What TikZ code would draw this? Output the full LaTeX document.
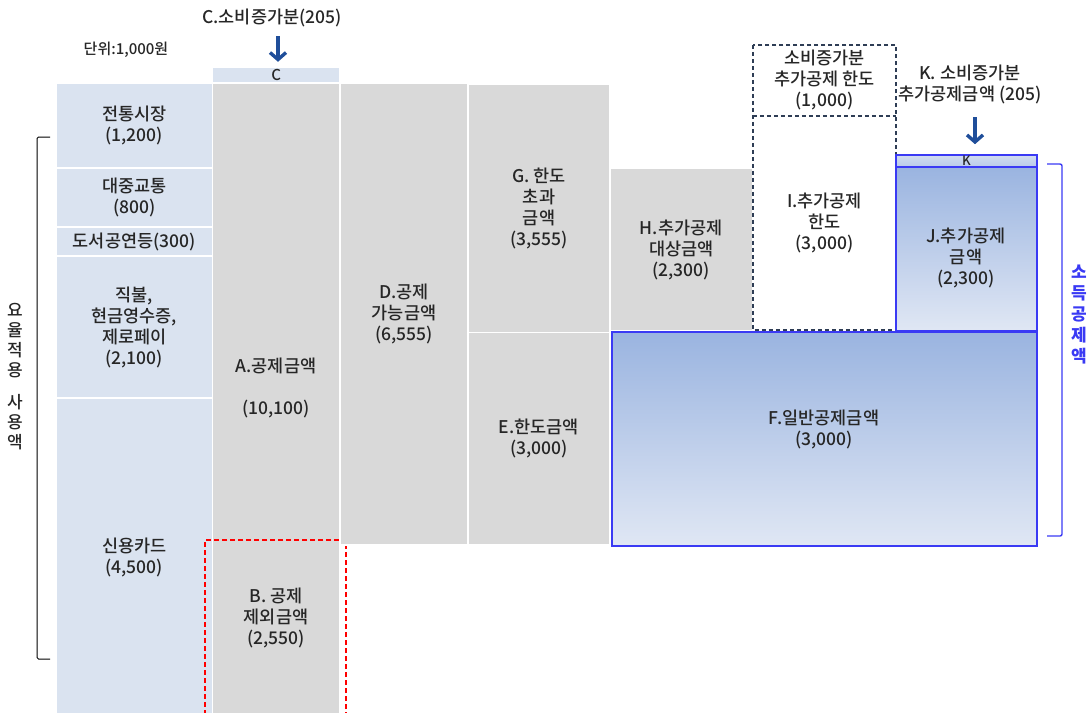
\documentclass[tikz,border=0pt]{standalone}
\usepackage{fontspec}
\setmainfont{Noto Sans CJK KR}[UprightFont=* Medium]
\newfontfamily\gainfont{Noto Sans CJK KR}
\usetikzlibrary{arrows.meta}

\definecolor{cellblue}{HTML}{DAE3F0}
\definecolor{cellgray}{HTML}{D9D9D9}
\definecolor{linkblue}{HTML}{1F4E9A}
\definecolor{rimblue}{HTML}{3A3AF4}
\definecolor{topblue}{HTML}{9AB4E0}
\definecolor{botblue}{HTML}{E0E7F4}
\definecolor{limitnavy}{HTML}{2E3D55}
\definecolor{inktext}{HTML}{262626}

\tikzset{
  words/.style={align=center, text=inktext, inner sep=0pt, font=\fontsize{17.5}{21}\selectfont},
  cell/.style={words, draw=white, line width=1.4pt},
  lightcell/.style={cell, fill=cellblue},
  graycell/.style={cell, fill=cellgray},
  bluecell/.style={cell, draw=rimblue, line width=1.6pt, top color=topblue, bottom color=botblue},
  limitline/.style={draw=limitnavy, line width=1.7pt, dash pattern=on 4.5pt off 2.5pt},
  downarrow/.style={draw=linkblue, line width=3.4pt, -{Straight Barb[length=7pt,width=16pt]}},
}

\begin{document}
\begin{tikzpicture}[x=1pt,y=-1pt]
\useasboundingbox (0,0) rectangle (1091,712);

% left column: spending by type
\node[lightcell, minimum width=156.5pt, minimum height=85pt] (trad) at (134.25,125.5) {전통시장\\(1,200)};
\node[lightcell, minimum width=156.5pt, minimum height=59pt] (bus) at (134.25,197.5) {대중교통\\(800)};
\node[lightcell, minimum width=156.5pt, minimum height=29pt] (book) at (134.25,241.5) {도서공연등(300)};
\node[lightcell, minimum width=156.5pt, minimum height=142pt] (cash) at (134.25,327) {직불,\\현금영수증,\\제로페이\\(2,100)};
\node[lightcell, minimum width=156.5pt, minimum height=318pt] (card) at (134.25,557) {신용카드\\(4,500)};

\node[words, font=\fontsize{15}{16}\selectfont] (unit) at (126,50) {단위:1,000원};

% gray columns
\node[lightcell, minimum width=127.5pt, minimum height=15.5pt, font=\fontsize{15}{15}\selectfont] (C) at (276.25,75.25) {C};
\node[graycell, minimum width=127.5pt, minimum height=633pt] (A) at (276.25,399.5) {};
\node[words] (Atxt) at (276,388) {A.공제금액\\[21pt](10,100)};
\node[draw=red, line width=1.5pt, dash pattern=on 5pt off 3pt, minimum width=141pt, minimum height=180pt] (B) at (275.5,630) {};
\node[words] (Btxt) at (276,618) {B. 공제\\제외금액\\(2,550)};

\node[graycell, minimum width=128pt, minimum height=462pt] (D) at (404,314) {D.공제\\가능금액\\(6,555)};
\node[graycell, minimum width=142pt, minimum height=248.5pt] (G) at (539,208.25) {G. 한도\\초과\\금액\\(3,555)};
\node[graycell, minimum width=142pt, minimum height=212.5pt] (E) at (539,438.75) {E.한도금액\\(3,000)};
\node[graycell, minimum width=142.5pt, minimum height=163pt] (H) at (681.25,249.5) {H.추가공제\\대상금액\\(2,300)};

% dashed limits
\node[words, minimum width=143pt, minimum height=70.5pt] (limit) at (824.5,80.25) {소비증가분\\추가공제 한도\\(1,000)};
\node[words, minimum width=143pt, minimum height=214pt] (I) at (824.5,222.5) {I.추가공제\\한도\\(3,000)};
\draw[limitline] (limit.north west) rectangle (I.south east);
\draw[limitline] (limit.south west) -- (limit.south east);

% deduction boxes
\node[bluecell, minimum width=141pt, minimum height=12pt, top color=botblue!80!topblue, bottom color=topblue!70!white, font=\fontsize{13}{13}\selectfont] (K) at (966.5,161) {K};
\node[bluecell, minimum width=141pt, minimum height=164pt] (J) at (966.5,249) {};
\node[words] (Jtxt) at (966,258) {J.추가공제\\금액\\(2,300)};
\node[bluecell, minimum width=425pt, minimum height=214pt] (F) at (824.5,439) {};
\node[words] (Ftxt) at (824,429) {F.일반공제금액\\(3,000)};

% arrows
\node[words] (Clab) at (272,18) {C.소비증가분(205)};
\coordinate (Ctop) at (278,36);
\draw[downarrow, shorten >=5pt] (Ctop) -- (Ctop |- C.north);
\node[words] (Klab) at (970,84) {K. 소비증가분\\추가공제금액 (205)};
\coordinate (Ktop) at (975,117);
\draw[downarrow, shorten >=10pt] (Ktop) -- (Ktop |- K.north);

% brackets
\coordinate (usetop) at (50,137);
\coordinate (usebot) at (50,659);
\draw[line width=1pt, rounded corners=1.5pt] (usetop) -- ++(-13,0) |- (usebot);
\node[words, font=\fontsize{17}{20}\selectfont] (uselab) at (15,377) {요\\율\\적\\용\\[12pt]사\\용\\액};

\coordinate (gaintop) at (1047,164);
\coordinate (gainbot) at (1047,536);
\draw[rimblue, line width=1.4pt, rounded corners=2pt] (gaintop) -- ++(15,0) |- (gainbot);
\node[words, text=rimblue, font=\gainfont\fontsize{17}{21}\bfseries] (gainlab) at (1079,315) {소\\득\\공\\제\\액};
\end{tikzpicture}
\end{document}
